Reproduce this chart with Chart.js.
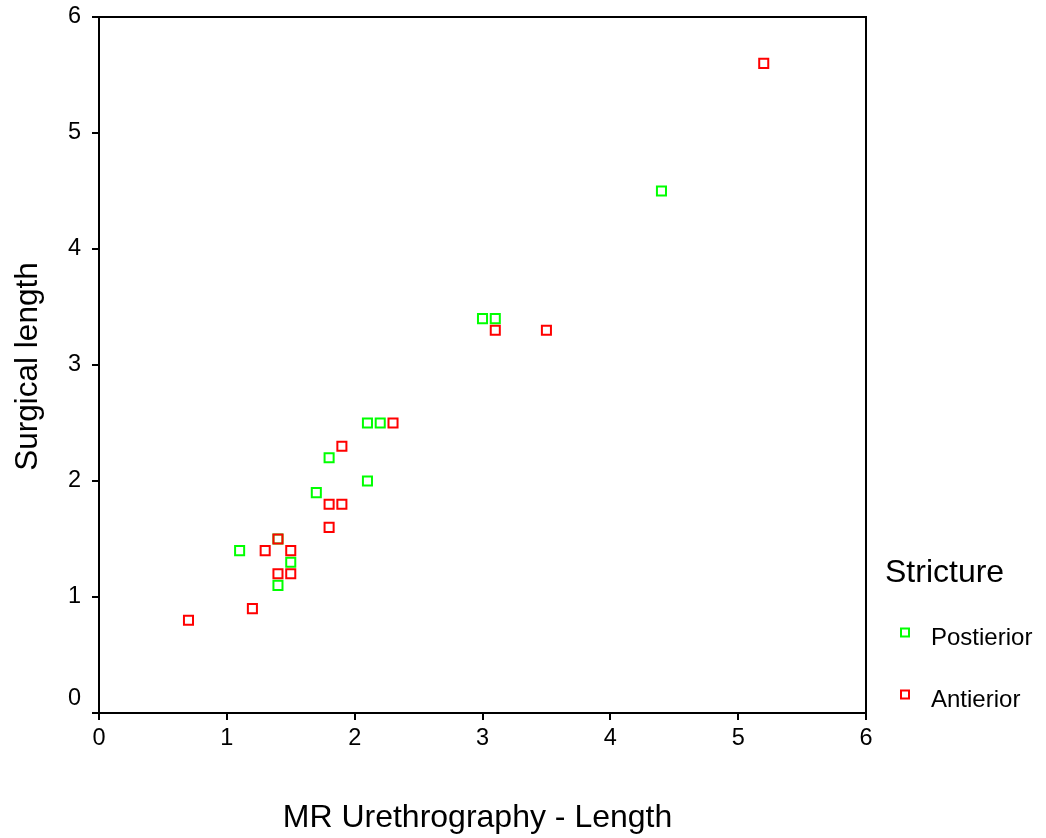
<!DOCTYPE html>
<html>
<head>
<meta charset="utf-8">
<script src="https://cdn.jsdelivr.net/npm/chart.js@4.4.1/dist/chart.umd.min.js"></script>
<style>
  html, body { margin: 0; padding: 0; background: #fff; }
  #wrap { width: 1046px; height: 838px; }
</style>
</head>
<body>
<div id="wrap"><canvas id="c" width="1046" height="838"></canvas></div>
<script>
// ---- data ----
const seriesNames = ["Postierior", "Antierior"];
const posteriorX = [1.1, 1.4, 1.5, 1.7, 1.8, 2.1, 2.2, 2.1, 3.0, 3.1, 4.4, 1.4];
const posteriorY = [1.4, 1.1, 1.3, 1.9, 2.2, 2.5, 2.5, 2.0, 3.4, 3.4, 4.5, 1.5];
const anteriorX  = [2.3, 1.9, 1.8, 1.9, 1.8, 1.4, 1.3, 1.5, 1.4, 1.5, 1.2, 0.7, 3.1, 3.5, 5.2];
const anteriorY  = [2.5, 2.3, 1.8, 1.8, 1.6, 1.5, 1.4, 1.4, 1.2, 1.2, 0.9, 0.8, 3.3, 3.3, 5.6];
const tickValues = [0, 1, 2, 3, 4, 5, 6];
const xTitle = "MR Urethrography - Length";
const yTitle = "Surgical length";
const legendTitle = "Stricture";

const FONT = "'Liberation Sans', Arial, sans-serif";
const toPoints = (xs, ys) => xs.map((x, i) => ({ x: x, y: ys[i] }));

const frameAndText = {
  id: 'frameAndText',
  afterDraw(chart) {
    const ctx = chart.ctx;
    const a = chart.chartArea;
    ctx.save();
    // top and right frame lines
    ctx.strokeStyle = '#000';
    ctx.lineWidth = 2;
    ctx.beginPath();
    ctx.moveTo(a.left - 7, a.top);
    ctx.lineTo(a.right, a.top);
    ctx.lineTo(a.right, a.bottom);
    ctx.stroke();

    ctx.fillStyle = '#000';
    // x axis title
    ctx.font = '32px ' + FONT;
    ctx.textAlign = 'center';
    ctx.textBaseline = 'alphabetic';
    ctx.fillText(xTitle, 477.5, 827);
    // y axis title
    ctx.save();
    ctx.translate(37, 366.5);
    ctx.rotate(-Math.PI / 2);
    ctx.font = '31.5px ' + FONT;
    ctx.fillText(yTitle, 0, 0);
    ctx.restore();

    // legend
    ctx.textAlign = 'left';
    ctx.font = '32px ' + FONT;
    ctx.fillText(legendTitle, 885, 582);
    ctx.font = '24px ' + FONT;
    const rows = [632.5, 694.5];
    chart.data.datasets.forEach((ds, i) => {
      const cy = rows[i];
      ctx.strokeStyle = ds.borderColor;
      ctx.lineWidth = 2;
      ctx.strokeRect(905 - 4, cy - 4, 8, 8);
      ctx.fillStyle = '#000';
      ctx.fillText(ds.label, 931, cy + 12.5);
    });
    ctx.restore();
  }
};

new Chart(document.getElementById('c'), {
  type: 'scatter',
  data: {
    datasets: [
      {
        label: seriesNames[0],
        data: toPoints(posteriorX, posteriorY),
        borderColor: '#00ff00',
        backgroundColor: 'rgba(0,0,0,0)',
        pointStyle: 'rect',
        pointRadius: 6.4,
        pointHoverRadius: 6.4,
        borderWidth: 2,
        order: 1
      },
      {
        label: seriesNames[1],
        data: toPoints(anteriorX, anteriorY),
        borderColor: '#ff0000',
        backgroundColor: 'rgba(0,0,0,0)',
        pointStyle: 'rect',
        pointRadius: 6.4,
        pointHoverRadius: 6.4,
        borderWidth: 2,
        order: 0
      }
    ]
  },
  options: {
    responsive: false,
    animation: false,
    events: [],
    layout: { padding: { left: 0, top: 17, right: 180, bottom: 0 } },
    plugins: { legend: { display: false }, tooltip: { enabled: false } },
    scales: {
      x: {
        type: 'linear',
        min: 0, max: 6,
        afterFit(scale) { scale.height = 125; scale.paddingLeft = 0; scale.paddingRight = 0; },
        afterBuildTicks(scale) { scale.ticks = tickValues.map(v => ({ value: v })); },
        grid: { display: true, drawOnChartArea: false, drawTicks: true, tickLength: 7, color: '#000', lineWidth: 2 },
        border: { display: true, color: '#000', width: 2 },
        ticks: { color: '#000', font: { family: FONT, size: 23.5 }, padding: 4, maxRotation: 0 }
      },
      y: {
        type: 'linear',
        min: 0, max: 6,
        afterFit(scale) { scale.width = 99; scale.paddingTop = 0; scale.paddingBottom = 0; },
        afterBuildTicks(scale) { scale.ticks = tickValues.map(v => ({ value: v })); },
        grid: { display: true, drawOnChartArea: false, drawTicks: true, tickLength: 7, color: '#000', lineWidth: 2 },
        border: { display: true, color: '#000', width: 2 },
        ticks: {
          color: '#000', font: { family: FONT, size: 23.5 }, padding: 11,
          callback: (v) => v === 0 ? ['0', ''] : String(v)
        }
      }
    }
  },
  plugins: [frameAndText]
});
</script>
</body>
</html>
